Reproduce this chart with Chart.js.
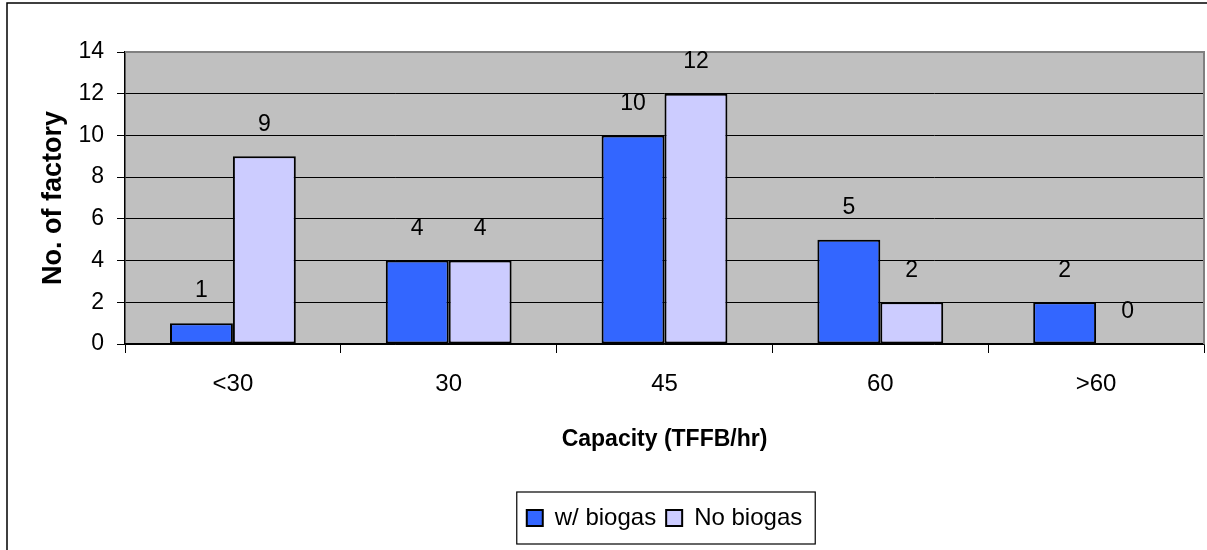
<!DOCTYPE html>
<html>
<head>
<meta charset="utf-8">
<script src="https://cdn.jsdelivr.net/npm/chart.js@4.4.1/dist/chart.umd.min.js"></script>
<style>
  html, body { margin: 0; padding: 0; background: #fff; }
  #wrap { width: 1207px; height: 550px; position: relative; }
</style>
</head>
<body>
<div id="wrap"><canvas id="bars"></canvas></div>
<script>
var categories = ["<30", "30", "45", "60", ">60"];
var withBiogas = [1, 4, 10, 5, 2];
var noBiogas = [9, 4, 12, 2, 0];
var yTicks = [0, 2, 4, 6, 8, 10, 12, 14];

var FONT = "'Liberation Sans', Arial, sans-serif";
Chart.defaults.font.family = FONT;
Chart.defaults.color = "#000";

// gray plot area, frame, value labels and legend box
var frame = {
  id: "frame",
  afterLayout: function(chart) {
    // center the legend under the plot area, not the whole canvas
    var lg = chart.legend, a = chart.chartArea;
    if (lg) {
      lg.left = a.left;
      lg.right = a.right;
      lg.width = a.right - a.left;
    }
  },
  beforeDraw: function(chart) {
    var ctx = chart.ctx, a = chart.chartArea;
    ctx.save();
    ctx.fillStyle = "#c0c0c0";
    ctx.fillRect(a.left, a.top, a.right - a.left, a.bottom - a.top);
    ctx.strokeStyle = "#000";
    ctx.lineWidth = 1.5;
    ctx.beginPath();
    ctx.moveTo(7, 550);
    ctx.lineTo(7, 3);
    ctx.lineTo(1207, 3);
    ctx.stroke();
    ctx.restore();
  },
  afterDatasetsDraw: function(chart) {
    var ctx = chart.ctx, a = chart.chartArea;
    ctx.save();
    ctx.strokeStyle = "#808080";
    ctx.lineWidth = 2;
    ctx.beginPath();
    ctx.moveTo(a.left, a.top);
    ctx.lineTo(a.right, a.top);
    ctx.lineTo(a.right, a.bottom);
    ctx.stroke();

    ctx.fillStyle = "#000";
    ctx.font = "23px " + FONT;
    ctx.textAlign = "center";
    ctx.textBaseline = "middle";
    chart.data.datasets.forEach(function(ds, i) {
      chart.getDatasetMeta(i).data.forEach(function(bar, j) {
        ctx.fillText(String(ds.data[j]), bar.x, bar.y - 32);
      });
    });

    var lg = chart.legend;
    if (lg && lg.legendHitBoxes.length) {
      var hb = lg.legendHitBoxes;
      var last = hb[hb.length - 1];
      var x0 = hb[0].left - 10;
      var x1 = last.left + last.width + 13;
      var cy = hb[0].top + hb[0].height / 2;
      ctx.strokeStyle = "#000";
      ctx.lineWidth = 1.2;
      ctx.strokeRect(x0, cy - 26, x1 - x0, 52);
    }
    ctx.restore();
  }
};

new Chart(document.getElementById("bars"), {
  type: "bar",
  data: {
    labels: categories,
    datasets: [{
      label: "w/ biogas",
      data: withBiogas,
      backgroundColor: "#3366ff",
      borderColor: "#000",
      borderWidth: 2,
      borderSkipped: false
    }, {
      label: "No biogas",
      data: noBiogas,
      backgroundColor: "#ccccff",
      borderColor: "#000",
      borderWidth: 2,
      borderSkipped: false
    }]
  },
  options: {
    responsive: true,
    maintainAspectRatio: false,
    animation: false,
    categoryPercentage: 0.583,
    barPercentage: 1,
    layout: { padding: { top: 52, right: 3, left: 0, bottom: 10 } },
    plugins: {
      legend: {
        position: "bottom",
        labels: {
          boxWidth: 16,
          boxHeight: 16,
          padding: 10,
          font: { size: 24 },
          color: "#000"
        }
      },
      tooltip: { enabled: false }
    },
    scales: {
      x: {
        grid: {
          offset: true,
          drawOnChartArea: false,
          drawTicks: true,
          tickLength: 9,
          color: "#000",
          lineWidth: 1
        },
        border: { color: "#000", width: 1.5 },
        ticks: { font: { size: 24 }, padding: 17, color: "#000" },
        title: {
          display: true,
          text: "Capacity (TFFB/hr)",
          font: { size: 23, weight: "bold" },
          padding: { top: 0, bottom: 43 },
          color: "#000"
        },
        afterFit: function(s) { s.height = 152; }
      },
      y: {
        min: 0,
        max: 14,
        afterBuildTicks: function(s) {
          s.ticks = yTicks.map(function(v) { return { value: v }; });
        },
        grid: {
          color: "#000",
          lineWidth: 1,
          tickLength: 8
        },
        border: { color: "#000", width: 1.5 },
        ticks: { font: { size: 23 }, padding: 13, color: "#000" },
        title: {
          display: true,
          text: "No. of factory",
          font: { size: 27, weight: "bold" },
          padding: { top: 37, bottom: 0 },
          color: "#000"
        },
        afterFit: function(s) { s.width = 125; }
      }
    }
  },
  plugins: [frame]
});
</script>
</body>
</html>
